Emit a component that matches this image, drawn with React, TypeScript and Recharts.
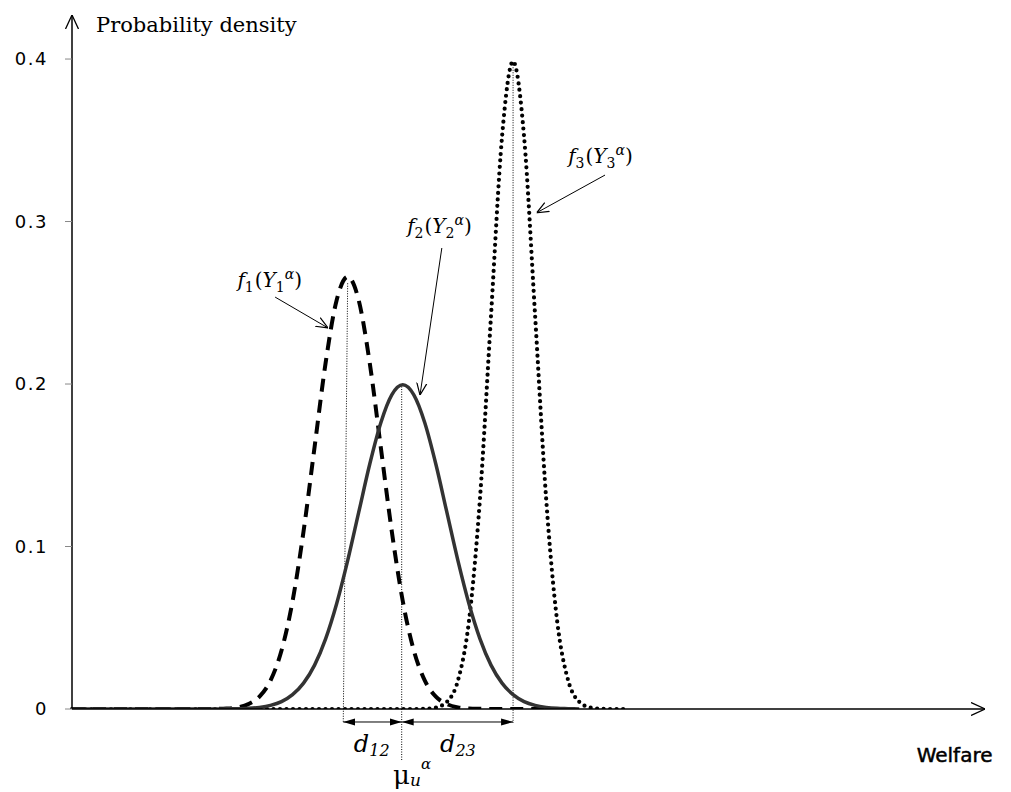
import React from "react";
import {
  LineChart,
  Line,
  XAxis,
  YAxis,
  ReferenceLine,
  ReferenceDot,
} from "recharts";

// welfare grid (x) and the three densities
const welfare = [
  0, 0.5, 1, 1.5, 2, 2.5, 3, 3.5, 4, 4.5, 5, 5.5, 6, 6.5, 7, 7.5, 8, 8.5, 9, 9.5,
  10, 10.5, 11, 11.5, 12, 12.5, 13, 13.5, 14, 14.5, 15, 15.5, 16, 16.5, 17, 17.5,
  18, 18.5, 19, 19.5, 20, 20.5, 21, 21.5, 22, 22.5, 23, 23.5, 24, 24.5, 25,
];
const f1 = [
  0, 0, 0, 0, 0, 0, 0, 0, 0, 0, 0, 0, 0, 0.0001, 0.0003, 0.001, 0.003, 0.0076,
  0.0175, 0.036, 0.0663, 0.1094, 0.1613, 0.213, 0.2516, 0.266, 0.2516, 0.213,
  0.1613, 0.1094, 0.0663, 0.036, 0.0175, 0.0076, 0.003, 0.001, 0.0003, 0.0001,
  0, 0, 0, 0, 0, 0, null, null, null, null, null, null, null,
];
const f2 = [
  0, 0, 0, 0, 0, 0, 0, 0, 0, 0, 0, 0, 0, 0, 0.0001, 0.0002, 0.0004, 0.001,
  0.0022, 0.0045, 0.0088, 0.0159, 0.027, 0.0432, 0.0648, 0.0913, 0.121, 0.1506,
  0.176, 0.1933, 0.1995, 0.1933, 0.176, 0.1506, 0.121, 0.0913, 0.0648, 0.0432,
  0.027, 0.0159, 0.0088, 0.0045, 0.0022, 0.001, 0.0004, 0.0002, 0, null, null,
  null, null,
];
const f3 = [
  0, 0, 0, 0, 0, 0, 0, 0, 0, 0, 0, 0, 0, 0, 0, 0, 0, 0, 0, 0, 0, 0, 0, 0, 0, 0,
  0, 0, 0, 0, 0, 0, 0.0001, 0.0009, 0.0044, 0.0175, 0.054, 0.1295, 0.242,
  0.3521, 0.3985, 0.3521, 0.242, 0.1295, 0.054, 0.0175, 0.0044, 0.0009, 0.0001,
  0, 0,
];
const yTicks = [0, 0.1, 0.2, 0.3, 0.4];

// means used for the guide lines (welfare units)
const meanU = 14.95;
const mean3 = 20;

const data = welfare.map((w, i) => ({ w, f1: f1[i], f2: f2[i], f3: f3[i] }));

const serif = "'DejaVu Serif', serif";
const sans = "'DejaVu Sans', sans-serif";

const makeLine =
  (opts: { dash?: string; start?: string; end?: string; width?: number }) =>
  (p: any) =>
    (
      <line
        x1={p.x1}
        y1={p.y1}
        x2={p.x2}
        y2={p.y2}
        stroke="#000"
        strokeWidth={opts.width ?? 1}
        strokeDasharray={opts.dash}
        markerStart={opts.start}
        markerEnd={opts.end}
      />
    );

const mathLabel = (idx: string) => (p: any) =>
  (
    <text x={p.cx} y={p.cy} fontFamily={serif} fontSize={20} fill="#000">
      <tspan fontStyle="italic">f</tspan>
      <tspan fontSize={14} dy={5}>
        {idx}
      </tspan>
      <tspan dy={-5} dx={1}>
        (
      </tspan>
      <tspan fontStyle="italic">Y</tspan>
      <tspan fontSize={14} dy={5}>
        {idx}
      </tspan>
      <tspan fontSize={14} fontStyle="italic" dy={-13}>
        α
      </tspan>
      <tspan dy={8}>)</tspan>
    </text>
  );

const dLabel = (sub: string) => (p: any) =>
  (
    <text x={p.cx} y={p.cy} fontFamily={serif} fontSize={24} fontStyle="italic" fill="#000">
      d
      <tspan fontSize={16} dy={4}>
        {sub}
      </tspan>
    </text>
  );

export default function App() {
  return (
    <div style={{ position: "absolute", left: 0, top: 0, background: "#fff" }}>
      <LineChart
        width={1011}
        height={792}
        data={data}
        margin={{ top: 15, right: 26, bottom: 53, left: 0 }}
      >
        <defs>
          <marker
            id="axisArrow"
            viewBox="0 0 14 14"
            refX={14}
            refY={7}
            markerWidth={14}
            markerHeight={14}
            markerUnits="userSpaceOnUse"
            orient="auto-start-reverse"
          >
            <path d="M0,0.5 L14,7 L0,13.5" fill="none" stroke="#000" strokeWidth={1.3} />
          </marker>
          <marker
            id="openHead"
            viewBox="0 0 12 12"
            refX={12}
            refY={6}
            markerWidth={12}
            markerHeight={12}
            markerUnits="userSpaceOnUse"
            orient="auto-start-reverse"
          >
            <path d="M0,1 L12,6 L0,11" fill="none" stroke="#000" strokeWidth={1.2} />
          </marker>
          <marker
            id="solidHead"
            viewBox="0 0 12 8"
            refX={12}
            refY={4}
            markerWidth={12}
            markerHeight={8}
            markerUnits="userSpaceOnUse"
            orient="auto-start-reverse"
          >
            <path d="M0,0.5 L12,4 L0,7.5 Z" fill="#000" />
          </marker>
        </defs>
        <XAxis
          dataKey="w"
          type="number"
          domain={[0, 41.4]}
          tick={false}
          tickLine={false}
          height={30}
          axisLine={{ stroke: "#000", strokeWidth: 1.5, markerEnd: "url(#axisArrow)" }}
        />
        <YAxis
          type="number"
          domain={[0, 0.4271]}
          ticks={yTicks}
          width={72}
          tickSize={7}
          tickMargin={17}
          tickLine={{ stroke: "#888" }}
          axisLine={{ stroke: "#000", strokeWidth: 1.5, markerStart: "url(#axisArrow)" }}
          tick={{ fill: "#000", fontSize: 18, fontFamily: sans, letterSpacing: 1.5 }}
          allowDataOverflow
        />

        {/* guide lines at the means */}
        <ReferenceLine
          segment={[{ x: 12.5, y: 0.262 }, { x: 12.3, y: -0.0086 }]}
          ifOverflow="visible"
          shape={makeLine({ dash: "1 1.5" })}
        />
        <ReferenceLine
          segment={[{ x: meanU, y: 0.2 }, { x: meanU, y: -0.0314 }]}
          ifOverflow="visible"
          shape={makeLine({ dash: "1 1.5" })}
        />
        <ReferenceLine
          segment={[{ x: mean3, y: 0.398 }, { x: mean3, y: -0.0086 }]}
          ifOverflow="visible"
          shape={makeLine({ dash: "1 1.5" })}
        />
        <ReferenceLine
          segment={[{ x: 12.3, y: -0.008 }, { x: meanU, y: -0.008 }]}
          ifOverflow="visible"
          shape={makeLine({ start: "url(#solidHead)", end: "url(#solidHead)" })}
        />
        <ReferenceLine
          segment={[{ x: meanU, y: -0.008 }, { x: mean3, y: -0.008 }]}
          ifOverflow="visible"
          shape={makeLine({ start: "url(#solidHead)", end: "url(#solidHead)" })}
        />

        {/* annotation arrows */}
        <ReferenceLine
          segment={[{ x: 9.21, y: 0.2535 }, { x: 11.61, y: 0.2345 }]}
          ifOverflow="visible"
          shape={makeLine({ end: "url(#openHead)" })}
        />
        <ReferenceLine
          segment={[{ x: 16.77, y: 0.2837 }, { x: 15.78, y: 0.1932 }]}
          ifOverflow="visible"
          shape={makeLine({ end: "url(#openHead)" })}
        />
        <ReferenceLine
          segment={[{ x: 24.17, y: 0.3286 }, { x: 21.07, y: 0.3054 }]}
          ifOverflow="visible"
          shape={makeLine({ end: "url(#openHead)" })}
        />

        <Line
          dataKey="f3"
          type="monotone"
          stroke="#000"
          strokeWidth={4.2}
          strokeDasharray="0 6.5"
          strokeLinecap="round"
          dot={false}
          activeDot={false}
          isAnimationActive={false}
        />
        <Line
          dataKey="f1"
          type="monotone"
          stroke="#000"
          strokeWidth={4}
          strokeDasharray="13 8"
          dot={false}
          activeDot={false}
          isAnimationActive={false}
        />
        <Line
          dataKey="f2"
          type="monotone"
          stroke="#333"
          strokeWidth={3.5}
          dot={false}
          activeDot={false}
          isAnimationActive={false}
        />

        {/* texts */}
        <ReferenceDot
          x={1.09}
          y={0.4166}
          ifOverflow="visible"
          shape={(p: any) => (
            <text x={p.cx} y={p.cy} fontFamily={serif} fontSize={21} fill="#000">
              Probability density
            </text>
          )}
        />
        <ReferenceDot
          x={38.3}
          y={-0.0326}
          ifOverflow="visible"
          shape={(p: any) => (
            <text
              x={p.cx}
              y={p.cy}
              fontFamily={sans}
              fontSize={20}
              fill="#000"
              stroke="#000"
              strokeWidth={0.5}
            >
              Welfare
            </text>
          )}
        />
        <ReferenceDot x={7.5} y={0.2597} ifOverflow="visible" shape={mathLabel("1")} />
        <ReferenceDot x={15.2} y={0.293} ifOverflow="visible" shape={mathLabel("2")} />
        <ReferenceDot x={22.5} y={0.336} ifOverflow="visible" shape={mathLabel("3")} />
        <ReferenceDot x={12.78} y={-0.0262} ifOverflow="visible" shape={dLabel("12")} />
        <ReferenceDot x={16.69} y={-0.0262} ifOverflow="visible" shape={dLabel("23")} />
        <ReferenceDot
          x={14.56}
          y={-0.0462}
          ifOverflow="visible"
          shape={(p: any) => (
            <text x={p.cx} y={p.cy} fontFamily={serif} fontSize={26} fill="#000">
              μ
              <tspan fontSize={17} fontStyle="italic" dy={2}>
                u
              </tspan>
              <tspan fontSize={15} fontStyle="italic" dy={-17}>
                α
              </tspan>
            </text>
          )}
        />
      </LineChart>
    </div>
  );
}
